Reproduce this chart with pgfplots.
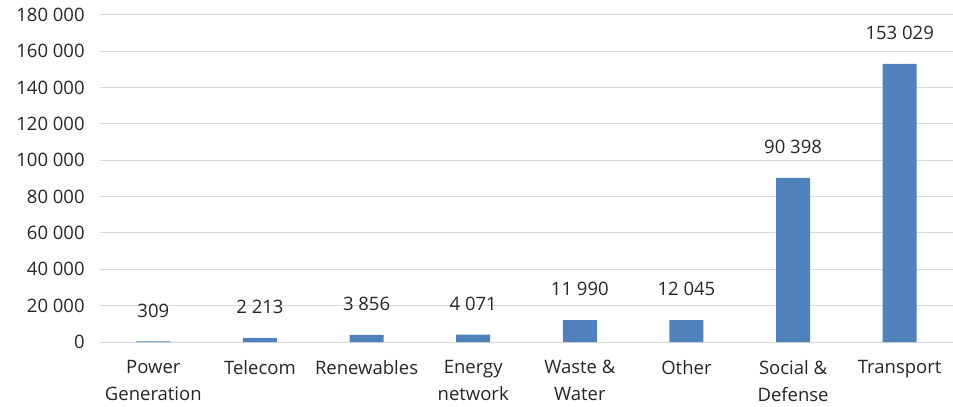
\documentclass[border=0pt]{standalone}
\usepackage{pgfplots}
\pgfplotsset{compat=1.18}
\usepackage{fontspec}
\setmainfont{Open Sans}
\definecolor{barblue}{RGB}{79,129,189}
\definecolor{gridgray}{RGB}{217,217,217}
\definecolor{txt}{RGB}{38,38,38}
\newcommand\lblfont{\fontsize{18.5bp}{27bp}\selectfont}
\begin{document}
\lblfont
\begin{tikzpicture}
% fixed frame: 100bp for the value axis labels, 65bp for the category labels
\useasboundingbox (-100bp,-65bp) rectangle (853bp,342bp);
\begin{axis}[
  scale only axis,
  width=853bp, height=327bp,
  xmin=-0.5, xmax=7.5,
  ymin=0, ymax=180000,
  scaled y ticks=false,
  ytick={0,20000,40000,60000,80000,100000,120000,140000,160000,180000},
  yticklabels={0,20 000,40 000,60 000,80 000,100 000,120 000,140 000,160 000,180 000},
  xtick={0,...,7},
  xticklabels={{Power\\Generation},Telecom,Renewables,{Energy\\network},{Waste \&\\Water},Other,{Social \&\\Defense},Transport},
  xticklabel style={align=center, text=txt, font=\lblfont, anchor=north, yshift=-12bp},
  yticklabel style={text=txt, font=\lblfont},
  ymajorgrids,
  grid style={gridgray, line width=1bp},
  axis line style={draw=none},
  axis x line*=bottom,
  x axis line style={gridgray, line width=1bp},
  major tick length=0pt,
  yticklabel shift=9bp,
  ybar,
  bar width=34bp,
  nodes near coords={\pgfplotspointmeta},
  nodes near coords style={text=txt, font=\lblfont, anchor=center, yshift=31bp},
  point meta=explicit symbolic,
  clip=false,
]
\addplot[fill=barblue, draw=none] coordinates {
  (0,309) [309]
  (1,2213) [2 213]
  (2,3856) [3 856]
  (3,4071) [4 071]
  (4,11990) [11 990]
  (5,12045) [12 045]
  (6,90398) [90 398]
  (7,153029) [153 029]
};
\end{axis}
\end{tikzpicture}
\end{document}
